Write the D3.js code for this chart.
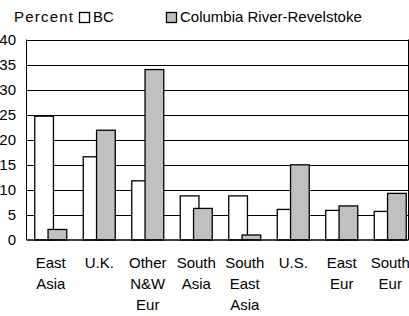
<html>
<head>
<script src="https://d3js.org/d3.v7.min.js"></script>
<style>
  body { margin: 0; background: #fff; }
  text { font-family: "Liberation Sans", Arial, sans-serif; fill: #000; }
</style>
</head>
<body>
<svg width="409" height="316"></svg>
<script>
// data
const categories = [["East", "Asia"], ["U.K."], ["Other", "N&W", "Eur"], ["South", "Asia"],
                    ["South", "East", "Asia"], ["U.S."], ["East", "Eur"], ["South", "Eur"]];
const series = ["BC", "Columbia River-Revelstoke"];
const bcValues = [24.7, 16.6, 11.8, 8.8, 8.8, 6.1, 5.9, 5.7];
const crrValues = [2.1, 21.9, 34.0, 6.3, 1.0, 15.0, 6.8, 9.3];
const yTicks = [0, 5, 10, 15, 20, 25, 30, 35, 40];
const colors = ["#ffffff", "#c0c0c0"];

var svg = d3.select("svg");
var plotLeft = 26.5, plotTop = 39.5, plotBottom = 240, frameRight = 408.5;

var catNames = categories.map(d => d.join(" "));
var x = d3.scaleBand().domain(catNames).range([plotLeft, 414.5]);
var barW = 18.7;
var groupW = 32;
var xs = d3.scalePoint().domain(series).range([0, groupW - barW]);
var y = d3.scaleLinear().domain([0, 40]).range([plotBottom, plotTop]);

// gridlines
svg.append("g")
  .selectAll("line")
  .data(yTicks.filter(d => d > 0))
  .enter()
  .append("line")
  .attr("x1", plotLeft).attr("x2", frameRight)
  .attr("y1", d => Math.round(y(d)) + 0.5)
  .attr("y2", d => Math.round(y(d)) + 0.5)
  .attr("stroke", "#000")
  .attr("stroke-width", 1);

// frame sides
svg.append("line").attr("x1", plotLeft).attr("x2", plotLeft).attr("y1", y(40)).attr("y2", y(0))
  .attr("stroke", "#000");
svg.append("line").attr("x1", frameRight).attr("x2", frameRight).attr("y1", y(40)).attr("y2", y(0))
  .attr("stroke", "#000");

// bars
var rows = catNames.map((c, i) => ({cat: c, vals: [bcValues[i], crrValues[i]]}));
series.forEach(function(s, si) {
  svg.append("g")
    .selectAll("rect")
    .data(rows)
    .enter()
    .append("rect")
    .attr("x", d => x(d.cat) + (x.bandwidth() - groupW) / 2 + xs(s))
    .attr("y", d => y(d.vals[si]))
    .attr("width", barW)
    .attr("height", d => y(0) - y(d.vals[si]))
    .attr("fill", colors[si])
    .attr("stroke", "#000")
    .attr("stroke-width", 1.3);
});

// baseline
svg.append("line").attr("x1", plotLeft).attr("x2", frameRight)
  .attr("y1", y(0)).attr("y2", y(0))
  .attr("stroke", "#000").attr("stroke-width", 1.5);

// y tick labels
svg.append("g")
  .selectAll("text")
  .data(yTicks)
  .enter()
  .append("text")
  .attr("x", 16)
  .attr("y", d => y(d))
  .attr("dy", "0.36em")
  .attr("text-anchor", "end")
  .style("font-size", "15px")
  .text(d => d);

// category labels
var lab = svg.append("g")
  .selectAll("text")
  .data(categories)
  .enter()
  .append("text")
  .attr("text-anchor", "middle")
  .style("font-size", "15px");
lab.selectAll("tspan")
  .data((d, i) => d.map(w => ({w: w, c: catNames[i]})))
  .enter()
  .append("tspan")
  .attr("x", d => x(d.c) + x.bandwidth() / 2)
  .attr("y", (d, j) => 268 + j * 21)
  .text(d => d.w);

// legend
svg.append("text").attr("x", 14).attr("y", 22)
  .style("font-size", "15px").style("letter-spacing", "1.2px")
  .text("Percent");
var legX = [79, 166];
var leg = svg.append("g")
  .selectAll("g")
  .data(series)
  .enter()
  .append("g")
  .attr("transform", (d, i) => "translate(" + legX[i] + ",12)");
leg.append("rect")
  .attr("x", 0.5).attr("y", 0.5)
  .attr("width", 10).attr("height", 10)
  .attr("fill", (d, i) => colors[i])
  .attr("stroke", "#000")
  .attr("stroke-width", 1.3);
leg.append("text")
  .attr("x", 14).attr("y", 10)
  .style("font-size", "15px")
  .text(d => d);
</script>
</body>
</html>
